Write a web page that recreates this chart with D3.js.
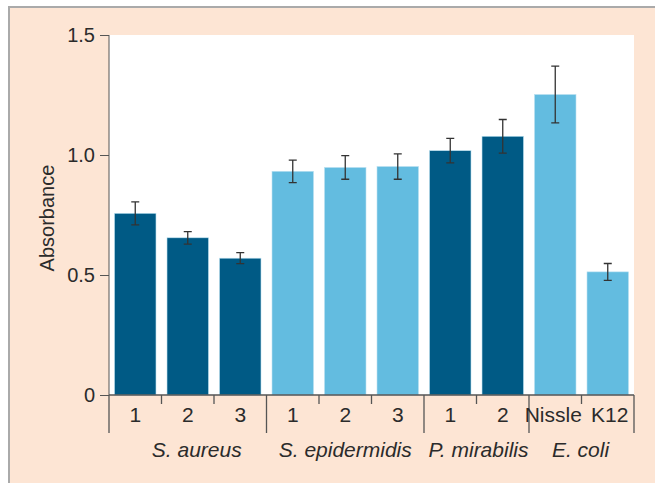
<!DOCTYPE html>
<html>
<head>
<meta charset="utf-8">
<script src="https://cdn.jsdelivr.net/npm/d3@7"></script>
<style>
  body { margin: 0; background: #fff; }
  text { font-family: "Liberation Sans", Arial, sans-serif; fill: #2b2b2b; }
</style>
</head>
<body>
<div id="chart"></div>
<script>
// Data
const strains = ["1", "2", "3", "1", "2", "3", "1", "2", "Nissle", "K12"];
const species = ["S. aureus", "S. epidermidis", "P. mirabilis", "E. coli"];
const groupOf = [0, 0, 0, 1, 1, 1, 2, 2, 3, 3];
const means = [0.757, 0.655, 0.570, 0.932, 0.948, 0.952, 1.018, 1.078, 1.252, 0.513];
const errors = [0.048, 0.026, 0.023, 0.047, 0.049, 0.053, 0.051, 0.070, 0.118, 0.035];
const shade = ["dark", "dark", "dark", "light", "light", "light", "dark", "dark", "light", "light"];
const yTicks = [0, 0.5, 1.0, 1.5];

const width = 655;
const height = 483;
const margin = { top: 35, right: 21, bottom: 88, left: 109 };

const color = d3.scaleOrdinal()
  .domain(["dark", "light"])
  .range(["#005a85", "#63bce0"]);

const svg = d3.select("#chart")
  .append("svg")
  .attr("width", width)
  .attr("height", height);

// Peach panel with grey top/left border
svg.append("rect")
  .attr("x", 8).attr("y", 6)
  .attr("width", width - 8).attr("height", height - 6)
  .attr("fill", "#fde5d4");
svg.append("path")
  .attr("d", `M9,${height} V7 H${width}`)
  .attr("fill", "none")
  .attr("stroke", "#aaaaaa")
  .attr("stroke-width", 2);

// White plot area
svg.append("rect")
  .attr("x", margin.left).attr("y", margin.top)
  .attr("width", width - margin.left - margin.right)
  .attr("height", height - margin.top - margin.bottom)
  .attr("fill", "#fff");

const x = d3.scaleBand()
  .domain(d3.range(strains.length))
  .range([margin.left, width - margin.right])
  .paddingInner(0.21)
  .paddingOuter(0.105);

const y = d3.scaleLinear()
  .domain([0, 1.5])
  .range([height - margin.bottom, margin.top]);

// Bars
svg.selectAll(".bar")
  .data(means)
  .enter()
  .append("rect")
  .attr("class", "bar")
  .attr("x", (d, i) => x(i))
  .attr("y", (d) => y(d))
  .attr("width", x.bandwidth())
  .attr("height", (d) => y(0) - y(d))
  .attr("fill", (d, i) => color(shade[i]))
  .attr("stroke", "#b9e0f0")
  .attr("stroke-width", 0.6);

// Error bars
const cap = 4;
const err = svg.append("g")
  .attr("stroke", "#333")
  .attr("stroke-width", 1.3)
  .attr("fill", "none");
err.selectAll("path")
  .data(means)
  .enter()
  .append("path")
  .attr("d", (d, i) => {
    const cx = x(i) + x.bandwidth() / 2;
    const t = y(d + errors[i]);
    const b = y(d - errors[i]);
    return `M${cx - cap},${t} H${cx + cap} M${cx},${t} V${b} M${cx - cap},${b} H${cx + cap}`;
  });

// Y axis
svg.append("g")
  .attr("transform", `translate(${margin.left},0)`)
  .call(d3.axisLeft(y)
    .tickValues(yTicks)
    .tickSize(9)
    .tickPadding(5)
    .tickFormat((d) => d === 0 ? "0" : d3.format(".1f")(d)))
  .call((g) => g.select(".domain").attr("stroke", "#555").attr("d", `M0,${y(0)}V${y(1.5)}`))
  .call((g) => g.selectAll(".tick line").attr("stroke", "#555"))
  .call((g) => g.selectAll(".tick text")
    .attr("font-size", "20px")
    .attr("fill", "#2b2b2b")
    .attr("font-family", "'Liberation Sans', Arial, sans-serif"));

svg.append("text")
  .attr("transform", `translate(54,${(y(0) + y(1.5)) / 2 + 3}) rotate(-90)`)
  .attr("text-anchor", "middle")
  .attr("font-size", "20px")
  .text("Absorbance");

// X axis
const base = y(0);
const axisX = svg.append("g")
  .attr("stroke", "#555")
  .attr("stroke-width", 1.3);
axisX.append("line")
  .attr("x1", margin.left).attr("x2", width - margin.right)
  .attr("y1", base).attr("y2", base);

// Boundary ticks: short between strains, long between species
const step = x.step();
const bounds = d3.range(strains.length + 1);
axisX.selectAll(".xt")
  .data(bounds)
  .enter()
  .append("line")
  .attr("x1", (i) => margin.left + i * step)
  .attr("x2", (i) => margin.left + i * step)
  .attr("y1", base)
  .attr("y2", (i) => (i === 0 || i === strains.length || groupOf[i] !== groupOf[i - 1]) ? base + 38 : base + 9);

svg.selectAll(".strain")
  .data(strains)
  .enter()
  .append("text")
  .attr("class", "strain")
  .attr("x", (d, i) => x(i) + x.bandwidth() / 2 + (d === "Nissle" ? -2 : d === "K12" ? 2 : 0))
  .attr("y", base + 27)
  .attr("text-anchor", "middle")
  .attr("font-size", "21px")
  .text((d) => d);

// species labels sit under their group, the first one nudged right as in the figure
const speciesNudge = [9, 0, 2, -1];
svg.selectAll(".species")
  .data(species)
  .enter()
  .append("text")
  .attr("class", "species")
  .attr("x", (d, g) => {
    const idx = d3.range(strains.length).filter((i) => groupOf[i] === g);
    return (x(idx[0]) + x(idx[idx.length - 1]) + x.bandwidth()) / 2 + speciesNudge[g];
  })
  .attr("y", base + 62)
  .attr("text-anchor", "middle")
  .attr("font-size", "21px")
  .attr("font-style", "italic")
  .text((d) => d);
</script>
</body>
</html>
